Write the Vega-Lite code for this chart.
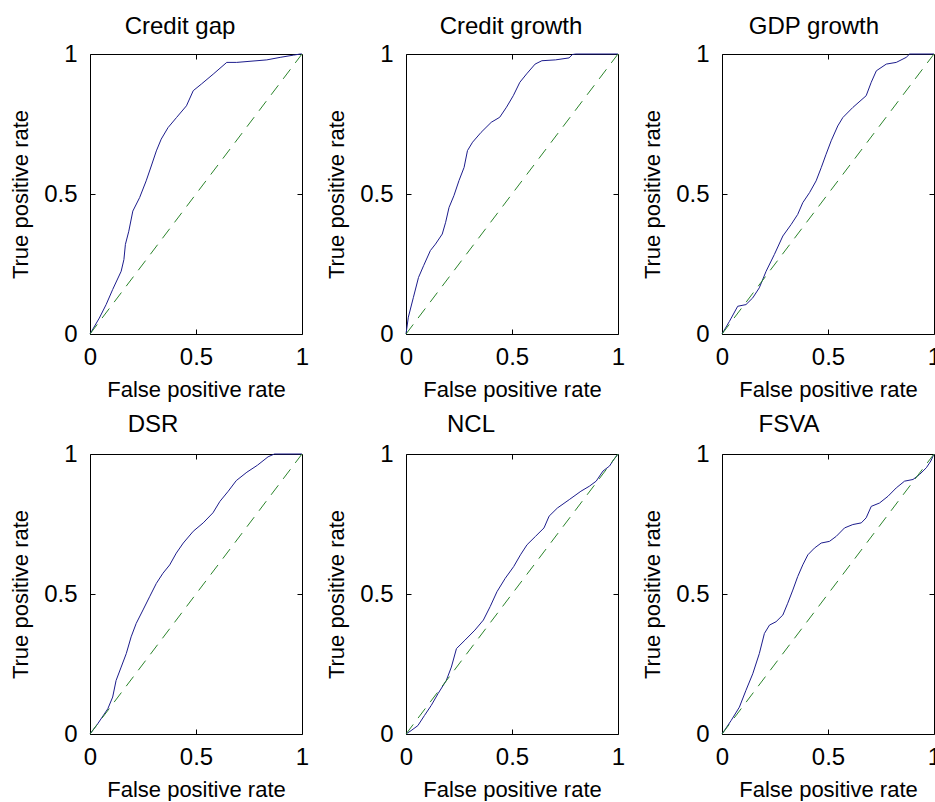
{
  "$schema": "https://vega.github.io/schema/vega-lite/v6.json",
  "background": "white",
  "autosize": {"type": "pad"},
  "padding": {"left": 9, "top": 14, "right": 0, "bottom": 0},
  "config": {
    "font": "Liberation Sans",
    "view": {"stroke": "black", "strokeWidth": 1},
    "axis": {
      "grid": false, "domain": false, "ticks": true, "tickSize": -5, "tickColor": "black", "tickWidth": 1,
      "labelFont": "Liberation Sans", "labelFontSize": 24, "labelColor": "black", "labelFlush": false, "labelOverlap": false,
      "titleFont": "Liberation Sans", "titleFontSize": 22, "titleFontWeight": "normal", "titleColor": "black"
    },
    "title": {"font": "Liberation Sans", "fontSize": 24, "fontWeight": "normal", "color": "black", "frame": "group", "anchor": "middle", "baseline": "alphabetic"}
  },
  "datasets": {
    "diag": [{"fpr": 0, "tpr": 0}, {"fpr": 1, "tpr": 1}],
    "roc": [
      {"panel": "Credit gap", "fpr": 0, "tpr": 0},
      {"panel": "Credit gap", "fpr": 0.044, "tpr": 0.057},
      {"panel": "Credit gap", "fpr": 0.076, "tpr": 0.105},
      {"panel": "Credit gap", "fpr": 0.107, "tpr": 0.159},
      {"panel": "Credit gap", "fpr": 0.147, "tpr": 0.224},
      {"panel": "Credit gap", "fpr": 0.16, "tpr": 0.266},
      {"panel": "Credit gap", "fpr": 0.167, "tpr": 0.32},
      {"panel": "Credit gap", "fpr": 0.183, "tpr": 0.367},
      {"panel": "Credit gap", "fpr": 0.202, "tpr": 0.439},
      {"panel": "Credit gap", "fpr": 0.234, "tpr": 0.487},
      {"panel": "Credit gap", "fpr": 0.265, "tpr": 0.547},
      {"panel": "Credit gap", "fpr": 0.289, "tpr": 0.6},
      {"panel": "Credit gap", "fpr": 0.313, "tpr": 0.654},
      {"panel": "Credit gap", "fpr": 0.336, "tpr": 0.696},
      {"panel": "Credit gap", "fpr": 0.368, "tpr": 0.737},
      {"panel": "Credit gap", "fpr": 0.408, "tpr": 0.773},
      {"panel": "Credit gap", "fpr": 0.455, "tpr": 0.815},
      {"panel": "Credit gap", "fpr": 0.487, "tpr": 0.869},
      {"panel": "Credit gap", "fpr": 0.526, "tpr": 0.893},
      {"panel": "Credit gap", "fpr": 0.581, "tpr": 0.928},
      {"panel": "Credit gap", "fpr": 0.645, "tpr": 0.97},
      {"panel": "Credit gap", "fpr": 0.692, "tpr": 0.97},
      {"panel": "Credit gap", "fpr": 0.834, "tpr": 0.979},
      {"panel": "Credit gap", "fpr": 0.897, "tpr": 0.988},
      {"panel": "Credit gap", "fpr": 0.96, "tpr": 0.996},
      {"panel": "Credit gap", "fpr": 0.992, "tpr": 1},
      {"panel": "Credit gap", "fpr": 1, "tpr": 1},

      {"panel": "Credit growth", "fpr": 0, "tpr": 0},
      {"panel": "Credit growth", "fpr": 0.011, "tpr": 0.06},
      {"panel": "Credit growth", "fpr": 0.035, "tpr": 0.131},
      {"panel": "Credit growth", "fpr": 0.059, "tpr": 0.202},
      {"panel": "Credit growth", "fpr": 0.083, "tpr": 0.244},
      {"panel": "Credit growth", "fpr": 0.115, "tpr": 0.298},
      {"panel": "Credit growth", "fpr": 0.139, "tpr": 0.321},
      {"panel": "Credit growth", "fpr": 0.171, "tpr": 0.357},
      {"panel": "Credit growth", "fpr": 0.187, "tpr": 0.399},
      {"panel": "Credit growth", "fpr": 0.203, "tpr": 0.452},
      {"panel": "Credit growth", "fpr": 0.226, "tpr": 0.494},
      {"panel": "Credit growth", "fpr": 0.25, "tpr": 0.548},
      {"panel": "Credit growth", "fpr": 0.274, "tpr": 0.595},
      {"panel": "Credit growth", "fpr": 0.29, "tpr": 0.655},
      {"panel": "Credit growth", "fpr": 0.314, "tpr": 0.685},
      {"panel": "Credit growth", "fpr": 0.354, "tpr": 0.72},
      {"panel": "Credit growth", "fpr": 0.402, "tpr": 0.756},
      {"panel": "Credit growth", "fpr": 0.442, "tpr": 0.774},
      {"panel": "Credit growth", "fpr": 0.474, "tpr": 0.81},
      {"panel": "Credit growth", "fpr": 0.506, "tpr": 0.851},
      {"panel": "Credit growth", "fpr": 0.537, "tpr": 0.899},
      {"panel": "Credit growth", "fpr": 0.569, "tpr": 0.929},
      {"panel": "Credit growth", "fpr": 0.609, "tpr": 0.964},
      {"panel": "Credit growth", "fpr": 0.641, "tpr": 0.976},
      {"panel": "Credit growth", "fpr": 0.705, "tpr": 0.979},
      {"panel": "Credit growth", "fpr": 0.769, "tpr": 0.986},
      {"panel": "Credit growth", "fpr": 0.785, "tpr": 0.998},
      {"panel": "Credit growth", "fpr": 0.8, "tpr": 1},
      {"panel": "Credit growth", "fpr": 1, "tpr": 1},

      {"panel": "GDP growth", "fpr": 0, "tpr": 0},
      {"panel": "GDP growth", "fpr": 0.035, "tpr": 0.045},
      {"panel": "GDP growth", "fpr": 0.074, "tpr": 0.099},
      {"panel": "GDP growth", "fpr": 0.113, "tpr": 0.105},
      {"panel": "GDP growth", "fpr": 0.145, "tpr": 0.129},
      {"panel": "GDP growth", "fpr": 0.176, "tpr": 0.165},
      {"panel": "GDP growth", "fpr": 0.208, "tpr": 0.224},
      {"panel": "GDP growth", "fpr": 0.247, "tpr": 0.284},
      {"panel": "GDP growth", "fpr": 0.287, "tpr": 0.35},
      {"panel": "GDP growth", "fpr": 0.326, "tpr": 0.391},
      {"panel": "GDP growth", "fpr": 0.357, "tpr": 0.427},
      {"panel": "GDP growth", "fpr": 0.381, "tpr": 0.469},
      {"panel": "GDP growth", "fpr": 0.413, "tpr": 0.505},
      {"panel": "GDP growth", "fpr": 0.444, "tpr": 0.547},
      {"panel": "GDP growth", "fpr": 0.468, "tpr": 0.594},
      {"panel": "GDP growth", "fpr": 0.491, "tpr": 0.642},
      {"panel": "GDP growth", "fpr": 0.515, "tpr": 0.69},
      {"panel": "GDP growth", "fpr": 0.546, "tpr": 0.743},
      {"panel": "GDP growth", "fpr": 0.57, "tpr": 0.773},
      {"panel": "GDP growth", "fpr": 0.617, "tpr": 0.809},
      {"panel": "GDP growth", "fpr": 0.68, "tpr": 0.851},
      {"panel": "GDP growth", "fpr": 0.704, "tpr": 0.899},
      {"panel": "GDP growth", "fpr": 0.728, "tpr": 0.94},
      {"panel": "GDP growth", "fpr": 0.775, "tpr": 0.964},
      {"panel": "GDP growth", "fpr": 0.822, "tpr": 0.97},
      {"panel": "GDP growth", "fpr": 0.869, "tpr": 0.988},
      {"panel": "GDP growth", "fpr": 0.885, "tpr": 1},
      {"panel": "GDP growth", "fpr": 1, "tpr": 1},

      {"panel": "DSR", "fpr": 0, "tpr": 0},
      {"panel": "DSR", "fpr": 0.036, "tpr": 0.036},
      {"panel": "DSR", "fpr": 0.084, "tpr": 0.09},
      {"panel": "DSR", "fpr": 0.107, "tpr": 0.132},
      {"panel": "DSR", "fpr": 0.123, "tpr": 0.191},
      {"panel": "DSR", "fpr": 0.147, "tpr": 0.239},
      {"panel": "DSR", "fpr": 0.171, "tpr": 0.287},
      {"panel": "DSR", "fpr": 0.194, "tpr": 0.347},
      {"panel": "DSR", "fpr": 0.218, "tpr": 0.395},
      {"panel": "DSR", "fpr": 0.25, "tpr": 0.443},
      {"panel": "DSR", "fpr": 0.281, "tpr": 0.49},
      {"panel": "DSR", "fpr": 0.313, "tpr": 0.538},
      {"panel": "DSR", "fpr": 0.344, "tpr": 0.574},
      {"panel": "DSR", "fpr": 0.376, "tpr": 0.604},
      {"panel": "DSR", "fpr": 0.407, "tpr": 0.646},
      {"panel": "DSR", "fpr": 0.44, "tpr": 0.682},
      {"panel": "DSR", "fpr": 0.487, "tpr": 0.724},
      {"panel": "DSR", "fpr": 0.534, "tpr": 0.754},
      {"panel": "DSR", "fpr": 0.58, "tpr": 0.79},
      {"panel": "DSR", "fpr": 0.613, "tpr": 0.831},
      {"panel": "DSR", "fpr": 0.652, "tpr": 0.867},
      {"panel": "DSR", "fpr": 0.69, "tpr": 0.905},
      {"panel": "DSR", "fpr": 0.74, "tpr": 0.935},
      {"panel": "DSR", "fpr": 0.79, "tpr": 0.96},
      {"panel": "DSR", "fpr": 0.84, "tpr": 0.99},
      {"panel": "DSR", "fpr": 0.87, "tpr": 1},
      {"panel": "DSR", "fpr": 1, "tpr": 1},

      {"panel": "NCL", "fpr": 0, "tpr": 0},
      {"panel": "NCL", "fpr": 0.024, "tpr": 0.012},
      {"panel": "NCL", "fpr": 0.056, "tpr": 0.03},
      {"panel": "NCL", "fpr": 0.087, "tpr": 0.066},
      {"panel": "NCL", "fpr": 0.119, "tpr": 0.102},
      {"panel": "NCL", "fpr": 0.151, "tpr": 0.144},
      {"panel": "NCL", "fpr": 0.19, "tpr": 0.191},
      {"panel": "NCL", "fpr": 0.214, "tpr": 0.239},
      {"panel": "NCL", "fpr": 0.238, "tpr": 0.305},
      {"panel": "NCL", "fpr": 0.278, "tpr": 0.335},
      {"panel": "NCL", "fpr": 0.325, "tpr": 0.371},
      {"panel": "NCL", "fpr": 0.365, "tpr": 0.407},
      {"panel": "NCL", "fpr": 0.397, "tpr": 0.455},
      {"panel": "NCL", "fpr": 0.429, "tpr": 0.508},
      {"panel": "NCL", "fpr": 0.468, "tpr": 0.556},
      {"panel": "NCL", "fpr": 0.508, "tpr": 0.598},
      {"panel": "NCL", "fpr": 0.54, "tpr": 0.64},
      {"panel": "NCL", "fpr": 0.571, "tpr": 0.676},
      {"panel": "NCL", "fpr": 0.611, "tpr": 0.706},
      {"panel": "NCL", "fpr": 0.651, "tpr": 0.736},
      {"panel": "NCL", "fpr": 0.675, "tpr": 0.778},
      {"panel": "NCL", "fpr": 0.714, "tpr": 0.807},
      {"panel": "NCL", "fpr": 0.77, "tpr": 0.837},
      {"panel": "NCL", "fpr": 0.825, "tpr": 0.867},
      {"panel": "NCL", "fpr": 0.865, "tpr": 0.885},
      {"panel": "NCL", "fpr": 0.897, "tpr": 0.903},
      {"panel": "NCL", "fpr": 0.929, "tpr": 0.939},
      {"panel": "NCL", "fpr": 0.96, "tpr": 0.957},
      {"panel": "NCL", "fpr": 0.98, "tpr": 0.98},
      {"panel": "NCL", "fpr": 1, "tpr": 1},

      {"panel": "FSVA", "fpr": 0, "tpr": 0},
      {"panel": "FSVA", "fpr": 0.043, "tpr": 0.048},
      {"panel": "FSVA", "fpr": 0.082, "tpr": 0.096},
      {"panel": "FSVA", "fpr": 0.113, "tpr": 0.156},
      {"panel": "FSVA", "fpr": 0.145, "tpr": 0.215},
      {"panel": "FSVA", "fpr": 0.176, "tpr": 0.287},
      {"panel": "FSVA", "fpr": 0.2, "tpr": 0.359},
      {"panel": "FSVA", "fpr": 0.224, "tpr": 0.389},
      {"panel": "FSVA", "fpr": 0.255, "tpr": 0.401},
      {"panel": "FSVA", "fpr": 0.287, "tpr": 0.425},
      {"panel": "FSVA", "fpr": 0.31, "tpr": 0.467},
      {"panel": "FSVA", "fpr": 0.334, "tpr": 0.514},
      {"panel": "FSVA", "fpr": 0.357, "tpr": 0.562},
      {"panel": "FSVA", "fpr": 0.381, "tpr": 0.604},
      {"panel": "FSVA", "fpr": 0.405, "tpr": 0.64},
      {"panel": "FSVA", "fpr": 0.436, "tpr": 0.664},
      {"panel": "FSVA", "fpr": 0.468, "tpr": 0.682},
      {"panel": "FSVA", "fpr": 0.507, "tpr": 0.688},
      {"panel": "FSVA", "fpr": 0.539, "tpr": 0.706},
      {"panel": "FSVA", "fpr": 0.578, "tpr": 0.736},
      {"panel": "FSVA", "fpr": 0.617, "tpr": 0.748},
      {"panel": "FSVA", "fpr": 0.657, "tpr": 0.754},
      {"panel": "FSVA", "fpr": 0.68, "tpr": 0.772},
      {"panel": "FSVA", "fpr": 0.704, "tpr": 0.813},
      {"panel": "FSVA", "fpr": 0.743, "tpr": 0.825},
      {"panel": "FSVA", "fpr": 0.783, "tpr": 0.849},
      {"panel": "FSVA", "fpr": 0.822, "tpr": 0.879},
      {"panel": "FSVA", "fpr": 0.861, "tpr": 0.903},
      {"panel": "FSVA", "fpr": 0.901, "tpr": 0.909},
      {"panel": "FSVA", "fpr": 0.932, "tpr": 0.927},
      {"panel": "FSVA", "fpr": 0.964, "tpr": 0.951},
      {"panel": "FSVA", "fpr": 0.985, "tpr": 0.975},
      {"panel": "FSVA", "fpr": 1, "tpr": 1}
    ]
  },
  "columns": 3,
  "spacing": {"row": 120, "column": 104},
  "bounds": "flush",
  "concat": [
    {
      "title": {"text": "Credit gap", "dx": -16, "offset": 3},
      "width": 212, "height": 280,
      "layer": [
        {"data": {"name": "roc"}, "transform": [{"filter": "datum.panel === 'Credit gap'"}],
         "mark": {"type": "line", "color": "#1c1c8c", "strokeWidth": 1},
         "encoding": {
           "x": {"field": "fpr", "type": "quantitative", "scale": {"domain": [0, 1], "nice": false}, "axis": {"orient": "bottom", "values": [0, 0.5, 1], "format": "~g", "title": "False positive rate", "labelPadding": 16, "titlePadding": 10}},
           "y": {"field": "tpr", "type": "quantitative", "scale": {"domain": [0, 1], "nice": false}, "axis": {"orient": "left", "values": [0, 0.5, 1], "format": "~g", "title": "True positive rate", "labelPadding": 18, "titlePadding": 11}}
         }},
        {"data": {"name": "diag"},
         "mark": {"type": "line", "color": "#2a842a", "strokeWidth": 1, "strokeDash": [12, 8]},
         "encoding": {
           "x": {"field": "fpr", "type": "quantitative", "scale": {"domain": [0, 1], "nice": false}, "axis": {"orient": "top", "values": [0.5], "labels": false, "title": null}},
           "y": {"field": "tpr", "type": "quantitative", "scale": {"domain": [0, 1], "nice": false}, "axis": {"orient": "right", "values": [0.5], "labels": false, "title": null}}
         }}
      ],
      "resolve": {"axis": {"x": "independent", "y": "independent"}}
    },
    {
      "title": {"text": "Credit growth", "dx": -1, "offset": 3},
      "width": 212, "height": 280,
      "layer": [
        {"data": {"name": "roc"}, "transform": [{"filter": "datum.panel === 'Credit growth'"}],
         "mark": {"type": "line", "color": "#1c1c8c", "strokeWidth": 1},
         "encoding": {
           "x": {"field": "fpr", "type": "quantitative", "scale": {"domain": [0, 1], "nice": false}, "axis": {"orient": "bottom", "values": [0, 0.5, 1], "format": "~g", "title": "False positive rate", "labelPadding": 16, "titlePadding": 10}},
           "y": {"field": "tpr", "type": "quantitative", "scale": {"domain": [0, 1], "nice": false}, "axis": {"orient": "left", "values": [0, 0.5, 1], "format": "~g", "title": "True positive rate", "labelPadding": 18, "titlePadding": 11}}
         }},
        {"data": {"name": "diag"},
         "mark": {"type": "line", "color": "#2a842a", "strokeWidth": 1, "strokeDash": [12, 8]},
         "encoding": {
           "x": {"field": "fpr", "type": "quantitative", "scale": {"domain": [0, 1], "nice": false}, "axis": {"orient": "top", "values": [0.5], "labels": false, "title": null}},
           "y": {"field": "tpr", "type": "quantitative", "scale": {"domain": [0, 1], "nice": false}, "axis": {"orient": "right", "values": [0.5], "labels": false, "title": null}}
         }}
      ],
      "resolve": {"axis": {"x": "independent", "y": "independent"}}
    },
    {
      "title": {"text": "GDP growth", "dx": -14, "offset": 3},
      "width": 212, "height": 280,
      "layer": [
        {"data": {"name": "roc"}, "transform": [{"filter": "datum.panel === 'GDP growth'"}],
         "mark": {"type": "line", "color": "#1c1c8c", "strokeWidth": 1},
         "encoding": {
           "x": {"field": "fpr", "type": "quantitative", "scale": {"domain": [0, 1], "nice": false}, "axis": {"orient": "bottom", "values": [0, 0.5, 1], "format": "~g", "title": "False positive rate", "labelPadding": 16, "titlePadding": 10}},
           "y": {"field": "tpr", "type": "quantitative", "scale": {"domain": [0, 1], "nice": false}, "axis": {"orient": "left", "values": [0, 0.5, 1], "format": "~g", "title": "True positive rate", "labelPadding": 18, "titlePadding": 11}}
         }},
        {"data": {"name": "diag"},
         "mark": {"type": "line", "color": "#2a842a", "strokeWidth": 1, "strokeDash": [12, 8]},
         "encoding": {
           "x": {"field": "fpr", "type": "quantitative", "scale": {"domain": [0, 1], "nice": false}, "axis": {"orient": "top", "values": [0.5], "labels": false, "title": null}},
           "y": {"field": "tpr", "type": "quantitative", "scale": {"domain": [0, 1], "nice": false}, "axis": {"orient": "right", "values": [0.5], "labels": false, "title": null}}
         }}
      ],
      "resolve": {"axis": {"x": "independent", "y": "independent"}}
    },
    {
      "title": {"text": "DSR", "dx": -43, "offset": 5},
      "width": 212, "height": 280,
      "layer": [
        {"data": {"name": "roc"}, "transform": [{"filter": "datum.panel === 'DSR'"}],
         "mark": {"type": "line", "color": "#1c1c8c", "strokeWidth": 1},
         "encoding": {
           "x": {"field": "fpr", "type": "quantitative", "scale": {"domain": [0, 1], "nice": false}, "axis": {"orient": "bottom", "values": [0, 0.5, 1], "format": "~g", "title": "False positive rate", "labelPadding": 16, "titlePadding": 10}},
           "y": {"field": "tpr", "type": "quantitative", "scale": {"domain": [0, 1], "nice": false}, "axis": {"orient": "left", "values": [0, 0.5, 1], "format": "~g", "title": "True positive rate", "labelPadding": 18, "titlePadding": 11}}
         }},
        {"data": {"name": "diag"},
         "mark": {"type": "line", "color": "#2a842a", "strokeWidth": 1, "strokeDash": [12, 8]},
         "encoding": {
           "x": {"field": "fpr", "type": "quantitative", "scale": {"domain": [0, 1], "nice": false}, "axis": {"orient": "top", "values": [0.5], "labels": false, "title": null}},
           "y": {"field": "tpr", "type": "quantitative", "scale": {"domain": [0, 1], "nice": false}, "axis": {"orient": "right", "values": [0.5], "labels": false, "title": null}}
         }}
      ],
      "resolve": {"axis": {"x": "independent", "y": "independent"}}
    },
    {
      "title": {"text": "NCL", "dx": -41, "offset": 5},
      "width": 212, "height": 280,
      "layer": [
        {"data": {"name": "roc"}, "transform": [{"filter": "datum.panel === 'NCL'"}],
         "mark": {"type": "line", "color": "#1c1c8c", "strokeWidth": 1},
         "encoding": {
           "x": {"field": "fpr", "type": "quantitative", "scale": {"domain": [0, 1], "nice": false}, "axis": {"orient": "bottom", "values": [0, 0.5, 1], "format": "~g", "title": "False positive rate", "labelPadding": 16, "titlePadding": 10}},
           "y": {"field": "tpr", "type": "quantitative", "scale": {"domain": [0, 1], "nice": false}, "axis": {"orient": "left", "values": [0, 0.5, 1], "format": "~g", "title": "True positive rate", "labelPadding": 18, "titlePadding": 11}}
         }},
        {"data": {"name": "diag"},
         "mark": {"type": "line", "color": "#2a842a", "strokeWidth": 1, "strokeDash": [12, 8]},
         "encoding": {
           "x": {"field": "fpr", "type": "quantitative", "scale": {"domain": [0, 1], "nice": false}, "axis": {"orient": "top", "values": [0.5], "labels": false, "title": null}},
           "y": {"field": "tpr", "type": "quantitative", "scale": {"domain": [0, 1], "nice": false}, "axis": {"orient": "right", "values": [0.5], "labels": false, "title": null}}
         }}
      ],
      "resolve": {"axis": {"x": "independent", "y": "independent"}}
    },
    {
      "title": {"text": "FSVA", "dx": -39, "offset": 5},
      "width": 212, "height": 280,
      "layer": [
        {"data": {"name": "roc"}, "transform": [{"filter": "datum.panel === 'FSVA'"}],
         "mark": {"type": "line", "color": "#1c1c8c", "strokeWidth": 1},
         "encoding": {
           "x": {"field": "fpr", "type": "quantitative", "scale": {"domain": [0, 1], "nice": false}, "axis": {"orient": "bottom", "values": [0, 0.5, 1], "format": "~g", "title": "False positive rate", "labelPadding": 16, "titlePadding": 10}},
           "y": {"field": "tpr", "type": "quantitative", "scale": {"domain": [0, 1], "nice": false}, "axis": {"orient": "left", "values": [0, 0.5, 1], "format": "~g", "title": "True positive rate", "labelPadding": 18, "titlePadding": 11}}
         }},
        {"data": {"name": "diag"},
         "mark": {"type": "line", "color": "#2a842a", "strokeWidth": 1, "strokeDash": [12, 8]},
         "encoding": {
           "x": {"field": "fpr", "type": "quantitative", "scale": {"domain": [0, 1], "nice": false}, "axis": {"orient": "top", "values": [0.5], "labels": false, "title": null}},
           "y": {"field": "tpr", "type": "quantitative", "scale": {"domain": [0, 1], "nice": false}, "axis": {"orient": "right", "values": [0.5], "labels": false, "title": null}}
         }}
      ],
      "resolve": {"axis": {"x": "independent", "y": "independent"}}
    }
  ]
}
